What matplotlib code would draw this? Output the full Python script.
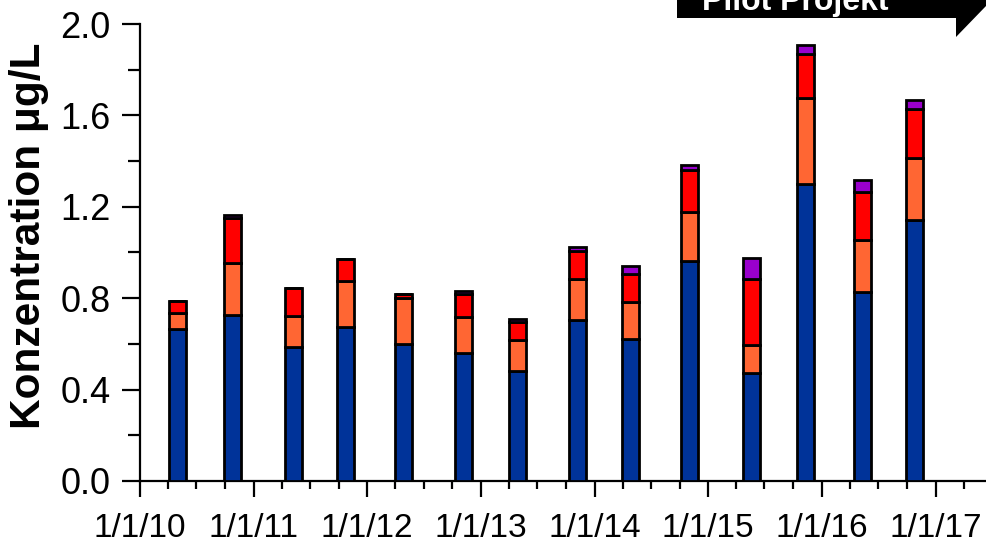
import matplotlib
matplotlib.use("Agg")
import matplotlib.pyplot as plt
import matplotlib.dates as mdates
from matplotlib.patches import Polygon
import numpy as np
import datetime as dt

plt.rcParams['font.family'] = ['Liberation Sans', 'DejaVu Sans']

# ---- data ----
dates = ["2010-05-01", "2010-10-26", "2011-05-08", "2011-10-23", "2012-04-27",
         "2012-11-06", "2013-04-28", "2013-11-06", "2014-04-27", "2014-11-03",
         "2015-05-19", "2015-11-10", "2016-05-11", "2016-10-26"]
blue   = [0.665, 0.726, 0.585, 0.675, 0.600, 0.559, 0.483, 0.705, 0.621, 0.963,
          0.474, 1.300, 0.826, 1.142]
orange = [0.072, 0.227, 0.138, 0.200, 0.200, 0.157, 0.134, 0.178, 0.161, 0.215,
          0.121, 0.378, 0.229, 0.273]
red    = [0.052, 0.199, 0.120, 0.095, 0.018, 0.102, 0.077, 0.124, 0.123, 0.183,
          0.288, 0.191, 0.211, 0.213]
purple = [0.000, 0.014, 0.000, 0.000, 0.000, 0.012, 0.016, 0.018, 0.036, 0.024,
          0.094, 0.039, 0.051, 0.039]
colors = ["#003399", "#FF6633", "#FF0000", "#9900CC"]
year_labels = ["1/1/10", "1/1/11", "1/1/12", "1/1/13", "1/1/14", "1/1/15", "1/1/16", "1/1/17"]
yticks = [0.0, 0.4, 0.8, 1.2, 1.6, 2.0]

W, H = 986, 546
fig = plt.figure(figsize=(W / 100, H / 100), dpi=100)
ax = fig.add_axes([140 / W, 1 - 481 / H, (W - 140) / W, (481 - 24) / H])

x = mdates.date2num([dt.datetime.strptime(d, "%Y-%m-%d") for d in dates])
bottom = np.zeros(len(x))
for vals, c in zip([blue, orange, red, purple], colors):
    v = np.array(vals)
    ax.bar(x, v, bottom=bottom, width=55, color=c, edgecolor="black",
           linewidth=2.0, zorder=3)
    bottom += v

ax.set_ylim(0, 2.0)
ax.set_xlim(mdates.date2num(dt.datetime(2010, 1, 1)),
            mdates.date2num(dt.datetime(2017, 6, 12)))

ax.set_yticks(yticks)
ax.set_yticklabels([f"{t:.1f}" for t in yticks])
ax.set_yticks(np.arange(0.2, 2.0, 0.4), minor=True)

ax.set_xticks(mdates.date2num([dt.datetime(2010 + i, 1, 1) for i in range(len(year_labels))]))
ax.set_xticklabels(year_labels)
ax.xaxis.set_minor_locator(mdates.MonthLocator(bymonth=[4, 7, 10]))

for s in ["top", "right"]:
    ax.spines[s].set_visible(False)
for s in ["left", "bottom"]:
    ax.spines[s].set_linewidth(1.6)

ax.tick_params(axis="y", which="major", direction="out", length=13, width=1.6,
               labelsize=26, pad=8, colors="black")
ax.tick_params(axis="y", which="minor", direction="out", length=8.5, width=1.6)
ax.tick_params(axis="x", which="major", direction="out", length=11.5, width=1.6,
               labelsize=24, pad=11.5)
ax.tick_params(axis="x", which="minor", direction="out", length=6, width=1.6)

fig.text(29 / W, 1 - 236 / H, "Konzentration μg/L", rotation=90, ha="center",
         va="center", fontsize=30.5, fontweight="bold")

# Banner "Pilot Projekt"
banner = Polygon([(677 / W, 1.0), (677 / W, 1 - 18 / H), (956 / W, 1 - 18 / H),
                  (956 / W, 1 - 37 / H), (986 / W, 1 - 6 / H), (986 / W, 1.0)],
                 closed=True, transform=fig.transFigure, facecolor="black",
                 edgecolor="none")
fig.patches.append(banner)
fig.text(795 / W, 1 - 10 / H, "Pilot Projekt", ha="center", va="baseline",
         fontsize=23, fontweight="bold", color="white")

fig.savefig("out.png", dpi=100)
